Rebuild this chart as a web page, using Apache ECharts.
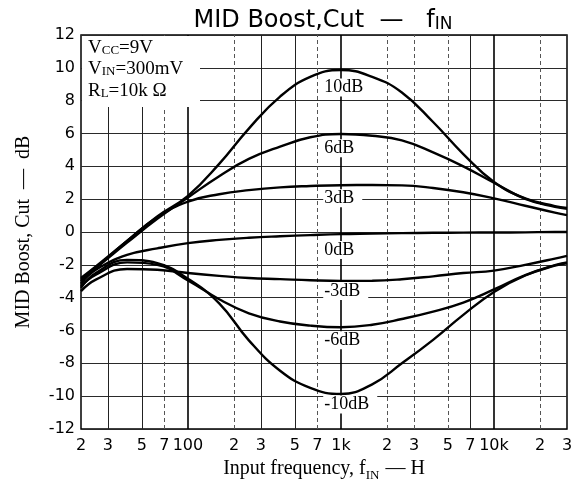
<!DOCTYPE html>
<html><head><meta charset="utf-8">
<script src="https://cdn.jsdelivr.net/npm/echarts@6/dist/echarts.min.js"></script>
<style>html,body{margin:0;padding:0;background:#fff}#c{width:581px;height:479px}</style>
</head><body><div id="c"></div>
<script>
// ---- data ----
const freq    = [20, 25, 40, 63, 100, 160, 250, 400, 630, 1000, 1600, 2500, 4000, 6300, 10000, 16000, 25000, 30000];
const boost10 = [-2.8, -2.1, -0.55, 0.95, 2.2, 4.15, 6.3, 8.25, 9.45, 9.87, 9.45, 8.5, 6.7, 4.75, 3.05, 2.05, 1.58, 1.47];
const boost6  = [-2.9, -2.2, -0.65, 0.8, 2.1, 3.4, 4.45, 5.2, 5.77, 5.97, 5.86, 5.58, 4.85, 4.0, 3.0, 2.02, 1.53, 1.42];
const boost3  = [-3.0, -2.2, -0.55, 0.9, 1.85, 2.3, 2.55, 2.72, 2.8, 2.85, 2.86, 2.84, 2.68, 2.42, 2.05, 1.6, 1.18, 1.03];
const flat0   = [-3.15, -2.3, -1.4, -1.0, -0.68, -0.48, -0.35, -0.26, -0.19, -0.13, -0.1, -0.07, -0.05, -0.04, -0.03, -0.02, 0, 0];
const cut3    = [-3.6, -2.9, -2.25, -2.3, -2.5, -2.67, -2.8, -2.87, -2.94, -2.98, -2.97, -2.88, -2.7, -2.5, -2.35, -2.0, -1.62, -1.45];
const cut6    = [-3.3, -2.6, -1.85, -2.0, -2.95, -4.1, -4.95, -5.45, -5.7, -5.8, -5.65, -5.3, -4.85, -4.3, -3.5, -2.62, -2.02, -1.85];
const cut10   = [-3.4, -2.5, -1.7, -1.9, -2.85, -4.35, -6.6, -8.45, -9.5, -9.87, -9.28, -8.0, -6.57, -5.05, -3.65, -2.65, -2.05, -1.9];

const curveNames  = ['10dB', '6dB', '3dB', '0dB', '-3dB', '-6dB', '-10dB'];
const curveValues = [boost10, boost6, boost3, flat0, cut3, cut6, cut10];
const labelLevels = [8.8, 5.1, 2.05, -1.1, -3.6, -6.6, -10.5];
const labelFreq   = 760;

const gridFreqs  = [20, 30, 50, 70, 100, 200, 300, 500, 700, 1000, 2000, 3000, 5000, 7000, 10000, 20000, 30000];
const gridLabels = ['2', '3', '5', '7', '100', '2', '3', '5', '7', '1k', '2', '3', '5', '7', '10k', '2', '3'];
const yMin = -12, yMax = 12, yStep = 2;

// ---- styles ----
const majorSet  = new Set([100, 1000, 10000]);
const dashedSet = new Set([70, 200, 700, 2000, 3000, 5000, 20000]);
const edgeSet   = new Set([20, 30000]);
function gridStyle(f) {
  if (edgeSet.has(f)) return {color: 'rgba(0,0,0,0)', width: 1, type: 'solid'};
  if (majorSet.has(f)) return {color: '#000', width: 1.6, type: 'solid'};
  if (dashedSet.has(f)) return {color: '#555', width: 1, type: [4, 3]};
  return {color: '#222', width: 1, type: 'solid'};
}
const serif = '"Liberation Serif", "Times New Roman", serif';
const sans = '"DejaVu Sans", sans-serif';

const series = [{
  type: 'line', data: [], silent: true,
  markLine: {
    silent: true, symbol: 'none', z: 1, animation: false,
    label: {show: true, position: 'start', distance: 9, color: '#000', fontFamily: sans, fontSize: 16},
    data: gridFreqs.map((f, i) => ({xAxis: f, label: {formatter: gridLabels[i]}, lineStyle: gridStyle(f)}))
  }
}];
curveNames.forEach((name, i) => {
  series.push({
    type: 'line', name: name, z: 3,
    data: freq.map((f, j) => [f, curveValues[i][j]]),
    smooth: 0.45, showSymbol: false, symbol: 'none',
    lineStyle: {color: '#000', width: 2.4},
    markPoint: {
      silent: true, z: 6, animation: false,
      symbol: 'rect', symbolSize: 1, itemStyle: {color: 'rgba(0,0,0,0)'},
      label: {show: true, position: 'right', distance: 0, formatter: name, color: '#000',
              fontFamily: serif, fontSize: 18, backgroundColor: '#fff', padding: [0, 8, 0, 1]},
      data: [{coord: [labelFreq, labelLevels[i]]}]
    }
  });
});

const chart = echarts.init(document.getElementById('c'), null, {renderer: 'canvas'});
chart.setOption({
  animation: false,
  backgroundColor: '#fff',
  grid: {left: 81, right: 14, top: 35, bottom: 50, containLabel: false, outerBoundsMode: 'none',
         show: true, borderColor: '#000', borderWidth: 1.5, backgroundColor: 'transparent'},
  xAxis: {
    type: 'log', logBase: 10, min: 20, max: 30000,
    axisLine: {show: false}, axisTick: {show: false}, axisLabel: {show: false}, splitLine: {show: false},
    name: 'Input frequency, f{s|IN} — H', nameLocation: 'middle', nameGap: 30,
    nameTextStyle: {fontFamily: serif, fontSize: 20, color: '#000',
      rich: {s: {fontFamily: serif, fontSize: 13, color: '#000', verticalAlign: 'bottom', padding: [0, 1, -3, 0]}}}
  },
  yAxis: {
    type: 'value', min: yMin, max: yMax, interval: yStep,
    axisLine: {show: false}, axisTick: {show: false},
    axisLabel: {fontFamily: sans, fontSize: 16, color: '#000', margin: 6},
    splitLine: {lineStyle: {color: '#2a2a2a', width: 1}},
    name: 'MID Boost, Cut  —  dB', nameLocation: 'middle', nameGap: 47, nameRotate: 90,
    nameTextStyle: {fontFamily: serif, fontSize: 20, color: '#000'}
  },
  graphic: [
    {type: 'rect', z: 100, silent: true, shape: {x: 82, y: 36, width: 118, height: 71}, style: {fill: '#fff'}},
    {type: 'text', z: 101, silent: true, x: 88, y: 48,
      style: {text: 'V{s|CC}=9V', font: '19px ' + serif, fill: '#000', verticalAlign: 'middle',
        rich: {s: {fontSize: 13, fontFamily: serif, verticalAlign: 'bottom'}}}},
    {type: 'text', z: 101, silent: true, x: 88, y: 69,
      style: {text: 'V{s|IN}=300mV', font: '19px ' + serif, fill: '#000', verticalAlign: 'middle',
        rich: {s: {fontSize: 13, fontFamily: serif, verticalAlign: 'bottom'}}}},
    {type: 'text', z: 101, silent: true, x: 88, y: 91,
      style: {text: 'R{s|L}=10k Ω', font: '19px ' + serif, fill: '#000', verticalAlign: 'middle',
        rich: {s: {fontSize: 13, fontFamily: serif, verticalAlign: 'bottom'}}}},
    {type: 'text', z: 101, silent: true, x: 323, y: 21,
      style: {text: '{a|MID Boost,Cut  —   f}{b|IN}', fill: '#000', align: 'center', verticalAlign: 'middle',
        rich: {a: {fontFamily: sans, fontSize: 24, verticalAlign: 'bottom'}, b: {fontFamily: sans, fontSize: 17, verticalAlign: 'bottom'}}}}
  ],
  series: series
});
</script></body></html>
